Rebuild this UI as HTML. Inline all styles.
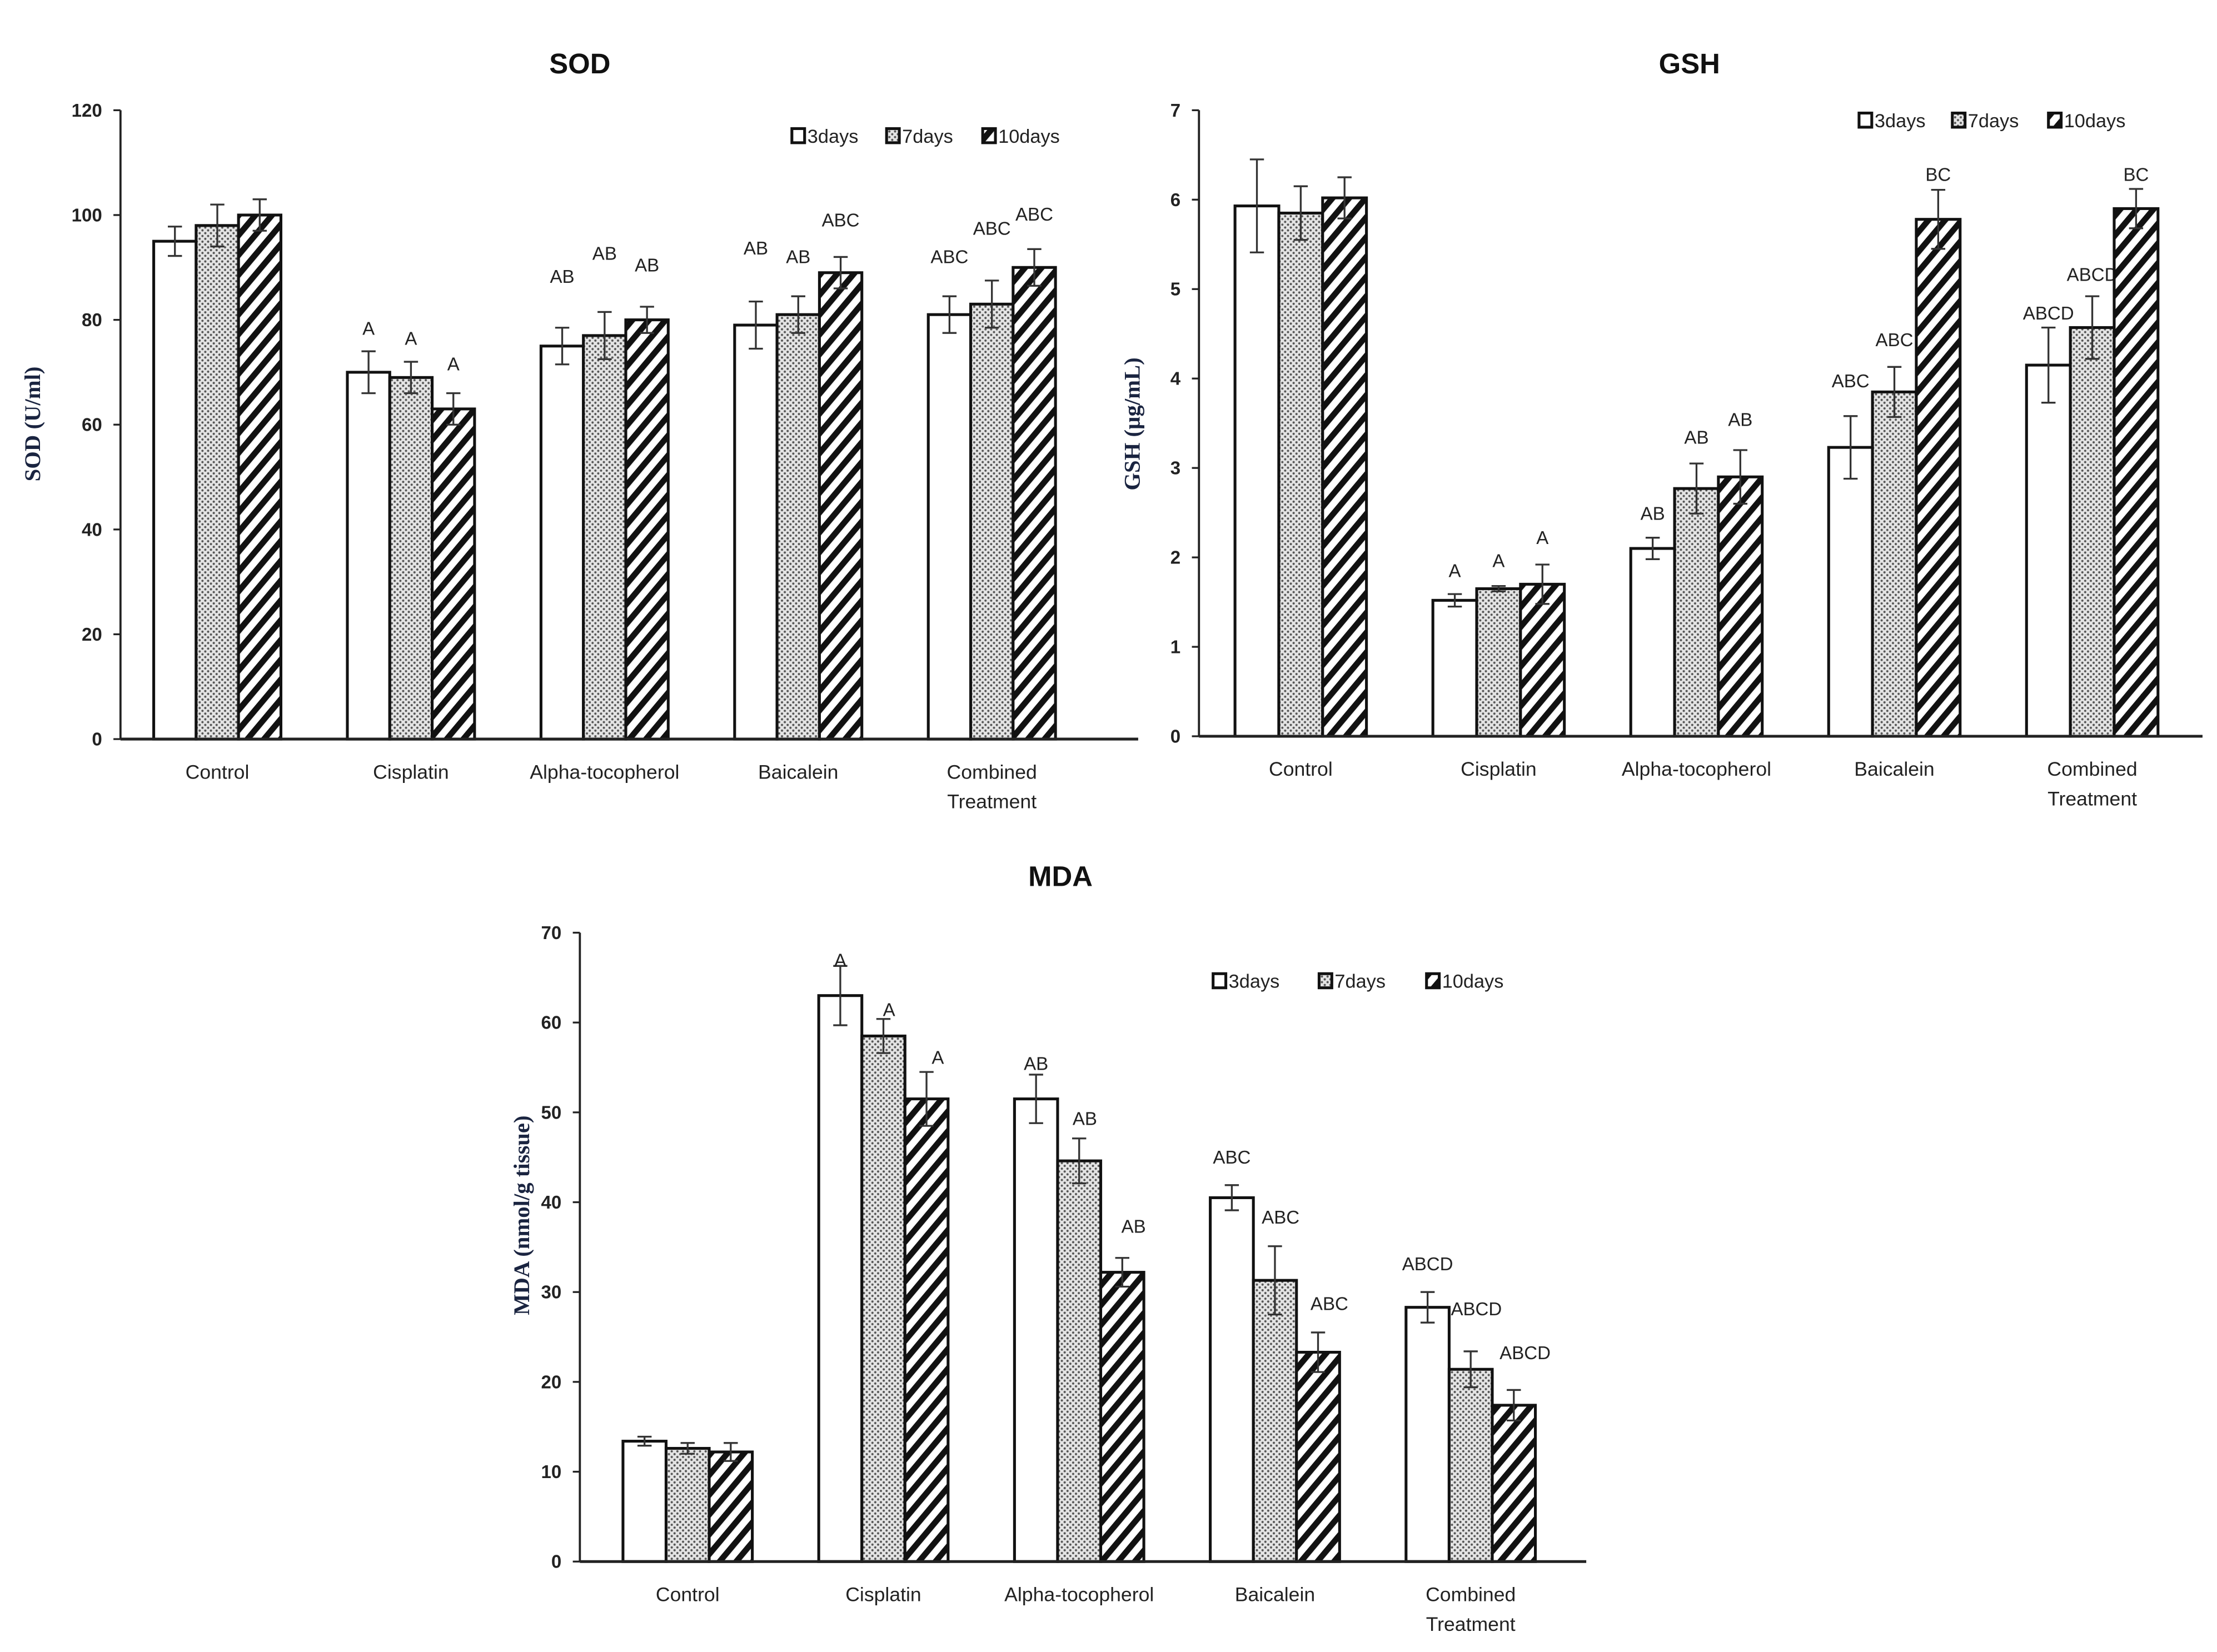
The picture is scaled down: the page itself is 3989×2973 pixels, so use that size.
<!DOCTYPE html>
<html><head><meta charset="utf-8"><title>SOD GSH MDA</title>
<style>html,body{margin:0;padding:0;background:#fff;}svg{display:block;}</style></head>
<body>
<svg id="fig" width="3989" height="2973" viewBox="0 0 1568 1169" xmlns="http://www.w3.org/2000/svg">
<defs>
<pattern id="dots" width="4" height="4" patternUnits="userSpaceOnUse"><rect width="4" height="4" fill="#e4e4e4"/><circle cx="1" cy="1" r="0.8" fill="#555"/><circle cx="3" cy="3" r="0.8" fill="#555"/></pattern>
<pattern id="stripes" width="9" height="9" patternUnits="userSpaceOnUse" patternTransform="rotate(40)"><rect width="9" height="9" fill="#fff"/><rect width="4.2" height="9" fill="#111"/></pattern>
</defs>
</svg>
<script>
const categories = ["Control","Cisplatin","Alpha-tocopherol","Baicalein","Combined Treatment"];
const seriesNames = ["3days","7days","10days"];
// SOD
const sod3 = [95,70,75,79,81];
const sod7 = [98,69,77,81,83];
const sod10 = [100,63,80,89,90];
const sodErr3 = [2.8,4,3.5,4.5,3.5];
const sodErr7 = [4,3,4.5,3.5,4.5];
const sodErr10 = [3,3,2.5,3,3.5];
const sodLab3 = ["","A","AB","AB","ABC"];
const sodLab7 = ["","A","AB","AB","ABC"];
const sodLab10 = ["","A","AB","ABC","ABC"];
const sodLabY3 = [0,78.5,88.4,93.8,92.2];
const sodLabY7 = [0,76.6,92.8,92.2,97.6];
const sodLabY10 = [0,71.7,90.6,99.2,100.3];
const sodTicks = [0,20,40,60,80,100,120];
// GSH
const gsh3 = [5.93,1.52,2.1,3.23,4.15];
const gsh7 = [5.85,1.65,2.77,3.85,4.57];
const gsh10 = [6.02,1.7,2.9,5.78,5.9];
const gshErr3 = [0.52,0.07,0.12,0.35,0.42];
const gshErr7 = [0.3,0.03,0.28,0.28,0.35];
const gshErr10 = [0.23,0.22,0.3,0.33,0.22];
const gshLab3 = ["","A","AB","ABC","ABCD"];
const gshLab7 = ["","A","AB","ABC","ABCD"];
const gshLab10 = ["","A","AB","BC","BC"];
const gshLabY3 = [0,1.86,2.5,3.98,4.74];
const gshLabY7 = [0,1.97,3.35,4.44,5.17];
const gshLabY10 = [0,2.23,3.55,6.29,6.29];
const gshTicks = [0,1,2,3,4,5,6,7];
// MDA
const mda3 = [13.4,63,51.5,40.5,28.3];
const mda7 = [12.6,58.5,44.6,31.3,21.4];
const mda10 = [12.2,51.5,32.2,23.3,17.4];
const mdaErr3 = [0.5,3.3,2.7,1.4,1.7];
const mdaErr7 = [0.6,1.9,2.5,3.8,2];
const mdaErr10 = [1,3,1.6,2.2,1.7];
const mdaLab3 = ["","A","AB","ABC","ABCD"];
const mdaLab7 = ["","A","AB","ABC","ABCD"];
const mdaLab10 = ["","A","AB","ABC","ABCD"];
const mdaLabY3 = [0,67,55.5,45.1,33.2];
const mdaLabY7 = [0,61.5,49.4,38.4,28.2];
const mdaLabY10 = [0,56.2,37.4,28.8,23.3];
const mdaTicks = [0,10,20,30,40,50,60,70];

const NS = "http://www.w3.org/2000/svg";
const svg = document.getElementById('fig');
function mk(tag, attrs, parent, text){
  const e = document.createElementNS(NS, tag);
  for (const k in attrs) e.setAttribute(k, attrs[k]);
  if (text !== undefined) e.textContent = text;
  parent.appendChild(e);
  return e;
}
const fills = ["#fff","url(#dots)","url(#stripes)"];

function chart(cfg){
  const g = mk('g', {}, svg);
  
  
  const yS = v => cfg.y0 - (v - 0) / cfg.max * (cfg.y0 - cfg.yTop);
  const xC = i => cfg.x0 + (cfg.xOff || 0) + cfg.step * (i + 0.5);
  const bw = cfg.bw;
  const t = mk('text', {x: cfg.titleX, y: cfg.titleY, 'text-anchor':'middle', 'font-family':'Liberation Sans, sans-serif', 'font-weight':'bold', 'font-size':20, fill:'#111'}, g, cfg.name);
  
  
  const yl = mk('text', {x:0, y:0, transform:`translate(${cfg.ylX},${cfg.ylY}) rotate(-90)`, 'text-anchor':'middle', 'font-family':'Liberation Serif, serif', 'font-weight':'bold', 'font-size':16, fill:'#1a2440'}, g, cfg.ylabel);
  
  
  cfg.ticks.forEach(v => {
    mk('line', {x1:cfg.x0-5, x2:cfg.x0, y1:yS(v), y2:yS(v), stroke:'#222', 'stroke-width':1.3}, g);
    const tl = mk('text', {x:cfg.x0-13, y:yS(v)+4.5, 'text-anchor':'end', 'font-family':'Liberation Sans, sans-serif', 'font-weight':'bold', 'font-size':13, fill:'#222'}, g, String(v));
    
    
  });
  cfg.series.forEach((vals, s) => {
    vals.forEach((v, i) => {
      const x = xC(i) - 1.5*bw + s*bw;
      const r = mk('rect', {x:x, y:yS(v), width:bw, height:cfg.y0 - yS(v), fill:fills[s], stroke:'#111', 'stroke-width':2}, g);
      
      
      const e = cfg.errs[s][i];
      const cx = x + bw/2;
      mk('path', {d:`M${cx},${yS(v+e)}V${yS(v-e)}M${cx-5},${yS(v+e)}H${cx+5}M${cx-5},${yS(v-e)}H${cx+5}`, stroke:'#333', 'stroke-width':1.3, fill:'none'}, g);
      const lab = cfg.labels[s][i];
      if (lab) {
        const lt = mk('text', {x:cx + (cfg.labDx ? cfg.labDx*s : 0), y:yS(cfg.labY[s][i]) + 5, 'text-anchor':'middle', 'font-family':'Liberation Sans, sans-serif', 'font-size':13, fill:'#222'}, g, lab);
        
        
      }
    });
  });
  mk('line', {x1:cfg.x0, x2:cfg.x0, y1:cfg.yTop, y2:cfg.y0, stroke:'#222', 'stroke-width':1.5}, g);
  mk('line', {x1:cfg.x0, x2:cfg.xEnd, y1:cfg.y0, y2:cfg.y0, stroke:'#222', 'stroke-width':2}, g);
  categories.forEach((c, i) => {
    const parts = c === "Combined Treatment" ? ["Combined","Treatment"] : [c];
    parts.forEach((p, k) => {
      const cl = mk('text', {x:xC(i), y:cfg.y0 + 28 + k*21, 'text-anchor':'middle', 'font-family':'Liberation Sans, sans-serif', 'font-size':14, fill:'#222'}, g, p);
      
      
    });
  });
  seriesNames.forEach((n, s) => {
    const lx = cfg.legX[s];
    const le = mk('g', {}, g);
    
    
    mk('rect', {x:lx, y:cfg.legY-10, width:9, height:10, fill:fills[s], stroke:'#111', 'stroke-width':2}, le);
    mk('text', {x:lx+11, y:cfg.legY, 'font-family':'Liberation Sans, sans-serif', 'font-size':13.5, fill:'#222'}, le, n);
  });
}

chart({name:"SOD", ylabel:"SOD (U/ml)", x0:85, xEnd:805, y0:523, yTop:78, max:120, step:137, bw:30,
  series:[sod3,sod7,sod10], errs:[sodErr3,sodErr7,sodErr10], labels:[sodLab3,sodLab7,sodLab10], labY:[sodLabY3,sodLabY7,sodLabY10],
  ticks:sodTicks, titleX:410, titleY:52, ylX:28, ylY:300, legX:[560,627,695], legY:101});
chart({name:"GSH", ylabel:"GSH (µg/mL)", x0:848, xOff:2, xEnd:1558, y0:521, yTop:78, max:7, step:140, bw:31,
  series:[gsh3,gsh7,gsh10], errs:[gshErr3,gshErr7,gshErr10], labels:[gshLab3,gshLab7,gshLab10], labY:[gshLabY3,gshLabY7,gshLabY10],
  ticks:gshTicks, titleX:1195, titleY:52, ylX:806, ylY:300, legX:[1315,1381,1449], legY:90});
chart({name:"MDA", ylabel:"MDA (nmol/g tissue)", x0:410, xOff:7, xEnd:1122, y0:1105, yTop:660, max:70, step:138.5, bw:30.5,
  series:[mda3,mda7,mda10], errs:[mdaErr3,mdaErr7,mdaErr10], labels:[mdaLab3,mdaLab7,mdaLab10], labY:[mdaLabY3,mdaLabY7,mdaLabY10], labDx:4,
  ticks:mdaTicks, titleX:750, titleY:627, ylX:374, ylY:860, legX:[858,933,1009], legY:699});
</script>
</body></html>
